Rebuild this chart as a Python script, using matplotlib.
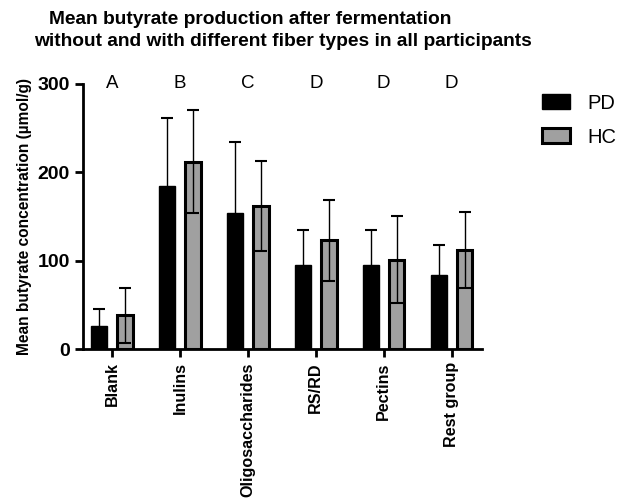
import matplotlib.pyplot as plt
import numpy as np

plt.rcParams['font.family'] = ['Liberation Sans', 'DejaVu Sans']

#--- Data
groups = ['Blank', 'Inulins', 'Oligosaccharides', 'RS/RD', 'Pectins', 'Rest group']
pd_mean = [26, 184, 154, 95, 95, 84]
pd_err = [19, 78, 80, 40, 40, 34]
hc_mean = [38, 212, 162, 123, 101, 112]
hc_err = [31, 58, 51, 46, 49, 43]
letters = ['A', 'B', 'C', 'D', 'D', 'D']

fig = plt.figure(figsize=(6.19, 5.0), dpi=100)
ax = fig.add_axes([0.134, 0.302, 0.645, 0.530])

x = np.arange(len(groups))
w = 0.23
off = 0.19

ax.bar(x - off, pd_mean, w, color='black', edgecolor='black', linewidth=1, label='PD', zorder=2)
ax.errorbar(x - off, pd_mean, yerr=pd_err, fmt='none', ecolor='black',
            elinewidth=1, capsize=4, capthick=1.5, zorder=1)
ax.bar(x + off, hc_mean, w, color='#a0a0a0', edgecolor='black', linewidth=2.2, label='HC', zorder=2)
ax.errorbar(x + off, hc_mean, yerr=hc_err, fmt='none', ecolor='black',
            elinewidth=1, capsize=4, capthick=1.5, zorder=3)

for i, t in enumerate(letters):
    ax.text(x[i], 300, t, ha='center', va='center', fontsize=13.5, clip_on=False)

ax.set_xlim(-0.43, 5.45)
ax.set_ylim(0, 300)
ax.set_yticks([0, 100, 200, 300])
ax.set_xticks(x)
ax.set_xticklabels(groups, rotation=90, fontweight='bold', fontsize=11.6)
for lab in ax.get_yticklabels():
    lab.set_fontweight('bold')
    lab.set_fontsize(14)
ax.tick_params(axis='both', width=2, length=6, color='black')
ax.spines['top'].set_visible(False)
ax.spines['right'].set_visible(False)
ax.spines['left'].set_linewidth(2)
ax.spines['bottom'].set_linewidth(2)
ax.set_ylabel('Mean butyrate concentration (µmol/g)', fontweight='bold', fontsize=11.2, labelpad=4)

ax.legend(loc='center left', bbox_to_anchor=(1.13, 0.863), frameon=False, fontsize=14.5,
          handlelength=1.4, handleheight=0.75, handletextpad=0.85, labelspacing=0.75,
          borderaxespad=0)

fig.text(0.404, 0.96, 'Mean butyrate production after fermentation', ha='center', va='center',
         fontsize=13.8, fontweight='bold')
fig.text(0.457, 0.916, 'without and with different fiber types in all participants', ha='center', va='center',
         fontsize=13.8, fontweight='bold')

fig.savefig('out.png', dpi=100)
